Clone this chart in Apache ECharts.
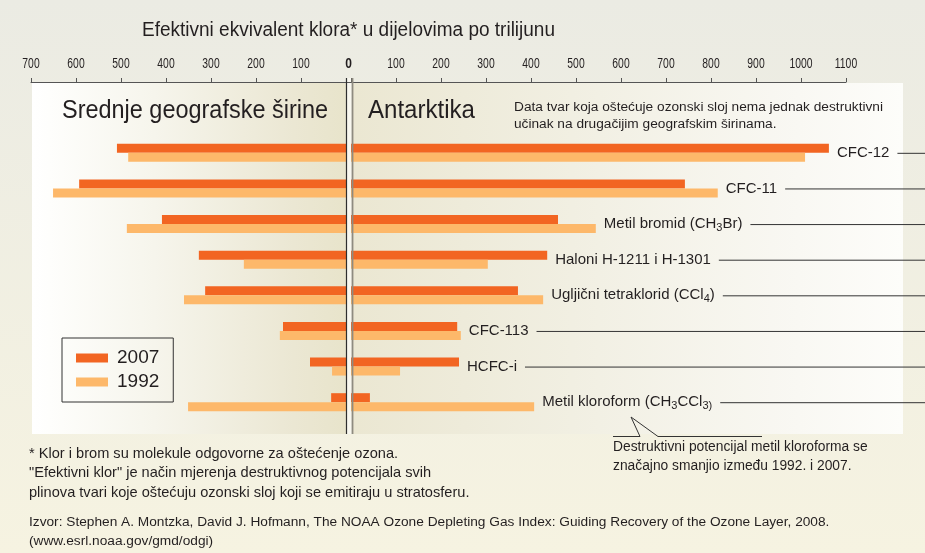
<!DOCTYPE html>
<html>
<head>
<meta charset="utf-8">
<script src="https://cdn.jsdelivr.net/npm/echarts@6/dist/echarts.min.js"></script>
<style>
  html, body { margin: 0; padding: 0; }
  #main { width: 925px; height: 553px; }
</style>
</head>
<body>
<div id="main"></div>
<script>
// kategorije (odozgo prema dolje)
var categories = ['CFC-12', 'CFC-11', 'Metil bromid', 'Haloni H-1211 i H-1301',
  'Ugljični tetraklorid', 'CFC-113', 'HCFC-i', 'Metil kloroform'];
// srednje geografske širine (lijevo)
var midLat2007 = [509, 593, 409, 327, 313, 140, 80, 33];
var midLat1992 = [484, 651, 487, 227, 360, 147, 31, 351];
// Antarktika (desno)
var ant2007 = [1062, 742, 460, 436, 371, 236, 240, 42];
var ant1992 = [1009, 815, 544, 304, 427, 244, 109, 407];
// oznake na desnoj strani
var rowLabels = ['{n|CFC-12}', '{n|CFC-11}', '{n|Metil bromid (CH}{s|3}{n|Br)}',
  '{n|Haloni H-1211 i H-1301}', '{n|Ugljični tetraklorid (CCl}{s|4}{n|)}',
  '{n|CFC-113}', '{n|HCFC-i}', '{n|Metil kloroform (CH}{s|3}{n|CCl}{s|3)}'];
var leftTicks = [700, 600, 500, 400, 300, 200, 100, 0];
var rightTicks = [100, 200, 300, 400, 500, 600, 700, 800, 900, 1000, 1100];

var C2007 = '#f26522';
var C1992 = '#fdb86a';
var TXT = '#231f20';
var REG = '"Liberation Sans", Arial, sans-serif';

var chart = echarts.init(document.getElementById('main'));

var xAxisBase = {
  type: 'value',
  position: 'top',
  offset: 53,
  interval: 100,
  min: 0,
  splitLine: { show: false },
  axisLine: { show: true, lineStyle: { color: '#555', width: 1 } },
  axisTick: { show: true, length: 4, lineStyle: { color: '#555' } },
  axisLabel: { show: false }
};

var option = {
  animation: false,
  backgroundColor: {
    type: 'linear', x: 0, y: 0, x2: 0, y2: 1,
    colorStops: [{ offset: 0, color: '#ebebe3' }, { offset: 1, color: '#f6f3e1' }]
  },
  legend: {
    data: ['2007', '1992'],
    orient: 'vertical',
    left: 62, top: 338,
    padding: [10, 14, 10, 14],
    itemWidth: 32, itemHeight: 9, itemGap: 4,
    borderColor: '#333', borderWidth: 1,
    selectedMode: false,
    icon: 'rect',
    textStyle: { fontSize: 19, lineHeight: 20, color: TXT, fontFamily: REG, padding: [0, 0, 0, 4] }
  },
  grid: [
    { left: 31, width: 315, top: 135, height: 285 },
    { left: 351, width: 495, top: 135, height: 285 }
  ],
  xAxis: [
    Object.assign({}, xAxisBase, { gridIndex: 0, max: 700, inverse: true }),
    Object.assign({}, xAxisBase, { gridIndex: 1, max: 1100 })
  ],
  yAxis: [
    { type: 'category', gridIndex: 0, data: categories, inverse: true, show: false },
    { type: 'category', gridIndex: 1, data: categories, inverse: true, show: false }
  ],
  series: [
    { name: '2007', type: 'bar', xAxisIndex: 0, yAxisIndex: 0, data: midLat2007,
      barWidth: 9, barGap: '0%', itemStyle: { color: C2007 }, z: 3 },
    { name: '1992', type: 'bar', xAxisIndex: 0, yAxisIndex: 0, data: midLat1992,
      barWidth: 9, barGap: '0%', itemStyle: { color: C1992 }, z: 3 },
    { name: '2007', type: 'bar', xAxisIndex: 1, yAxisIndex: 1, data: ant2007,
      barWidth: 9, barGap: '0%', itemStyle: { color: C2007 }, z: 3 },
    { name: '1992', type: 'bar', xAxisIndex: 1, yAxisIndex: 1, data: ant1992,
      barWidth: 9, barGap: '0%', itemStyle: { color: C1992 }, z: 3 }
  ]
};
chart.setOption(option);

// mjerenje teksta
var ctx = document.createElement('canvas').getContext('2d');
function textWidth(str, font) {
  ctx.font = font;
  return ctx.measureText(str).width;
}
function richWidth(str) {
  var w = 0, re = /\{(\w)\|([^}]*)\}/g, m;
  while ((m = re.exec(str)) !== null) {
    w += textWidth(m[2], (m[1] === 's' ? 11 : 15) + 'px ' + REG);
  }
  return w;
}
// uski (condensed) tekst: Liberation Sans stisnut po širini
function narrowText(str, x, y, size, width, align, weight) {
  var font = (weight ? weight + ' ' : '') + size + 'px ' + REG;
  var sx = width / textWidth(str, font);
  return {
    type: 'text', x: x, y: y, scaleX: sx, z: 10,
    style: { text: str, fill: TXT, font: font, align: align || 'left', verticalAlign: 'middle' }
  };
}

var leftZero = chart.convertToPixel({ xAxisIndex: 0 }, 0);
var rightZero = chart.convertToPixel({ xAxisIndex: 1 }, 0);
var axisY = 82;

var g = [];
// svijetla ploča iza stupaca
g.push({
  type: 'rect', z: -10, silent: true,
  shape: { x: 32, y: 83, width: 871, height: 351 },
  style: {
    fill: {
      type: 'linear', x: 0, y: 0, x2: 1, y2: 0,
      colorStops: [
        { offset: 0, color: '#ffffff' }, { offset: 0.02, color: '#fefefc' },
        { offset: 0.14, color: '#f6f5ec' }, { offset: 0.3, color: '#ebe7d3' },
        { offset: 0.36, color: '#e8e4cb' }, { offset: 0.37, color: '#ebe7d2' },
        { offset: 0.62, color: '#f1efe2' }, { offset: 0.88, color: '#f9f8f3' },
        { offset: 1, color: '#fdfdfa' }
      ]
    }
  }
});
// spoj osi preko nule
g.push({ type: 'line', z: 5, shape: { x1: leftZero, y1: axisY + 0.5, x2: rightZero, y2: axisY + 0.5 },
  style: { stroke: '#555', lineWidth: 1 } });
// dvostruka crta na nuli
g.push({ type: 'rect', z: -5, shape: { x: leftZero, y: 78, width: rightZero - leftZero + 1, height: 356 },
  style: { fill: '#f8f7ef' } });
g.push({ type: 'line', z: 6, shape: { x1: leftZero + 0.5, y1: 78, x2: leftZero + 0.5, y2: 434 },
  style: { stroke: '#2e2e2e', lineWidth: 1.2 } });
g.push({ type: 'line', z: 6, shape: { x1: rightZero + 1.5, y1: 78, x2: rightZero + 1.5, y2: 434 },
  style: { stroke: '#8e8b80', lineWidth: 1.8 } });

// oznake osi (uski font)
var tickFont = '14px ' + REG;
var tickScale = 0.74;
leftTicks.forEach(function (v) {
  var px = chart.convertToPixel({ xAxisIndex: 0 }, v);
  if (v === 0) {
    g.push({ type: 'text', x: (leftZero + rightZero) / 2, y: 64, scaleX: 0.8, z: 10,
      style: { text: '0', fill: TXT, font: 'bold 15px ' + REG, align: 'center', verticalAlign: 'middle' } });
  } else {
    g.push({ type: 'text', x: px, y: 64, scaleX: tickScale, z: 10,
      style: { text: String(v), fill: TXT, font: tickFont, align: 'center', verticalAlign: 'middle' } });
  }
});
rightTicks.forEach(function (v) {
  var px = chart.convertToPixel({ xAxisIndex: 1 }, v);
  g.push({ type: 'text', x: px, y: 64, scaleX: tickScale, z: 10,
    style: { text: String(v), fill: TXT, font: tickFont, align: 'center', verticalAlign: 'middle' } });
});

// oznake tvari s crtom do ruba
for (var i = 0; i < categories.length; i++) {
  var endV = Math.max(ant2007[i], ant1992[i]);
  var lx = chart.convertToPixel({ xAxisIndex: 1 }, endV) + 8;
  var ly = chart.convertToPixel({ yAxisIndex: 1 }, categories[i]);
  g.push({
    type: 'text', z: 10, x: lx, y: ly,
    style: {
      text: rowLabels[i], fill: TXT, verticalAlign: 'middle', align: 'left',
      rich: {
        n: { fontSize: 15, fontFamily: REG, color: TXT, lineHeight: 18 },
        s: { fontSize: 11, fontFamily: REG, color: TXT, lineHeight: 12, verticalAlign: 'bottom' }
      }
    }
  });
  var ex = lx + richWidth(rowLabels[i]) + 8;
  g.push({ type: 'line', z: 10, shape: { x1: ex, y1: ly + 0.5, x2: 925, y2: ly + 0.5 },
    style: { stroke: '#333', lineWidth: 1 } });
}

// naslovi i bilješke
g.push(narrowText('Efektivni ekvivalent klora* u dijelovima po trilijunu', 348.5, 30, 20, 413, 'center'));
g.push(narrowText('Srednje geografske širine', 62, 111, 26, 266));
g.push(narrowText('Antarktika', 368, 111, 26, 107));
g.push({ type: 'text', x: 514, y: 99, style: {
  text: 'Data tvar koja oštećuje ozonski sloj nema jednak destruktivni\nučinak na drugačijim geografskim širinama.',
  fill: TXT, font: '13.7px ' + REG, lineHeight: 17, verticalAlign: 'top' } });
g.push({ type: 'text', x: 29, y: 444, style: {
  text: '* Klor i brom su molekule odgovorne za oštećenje ozona.\n"Efektivni klor" je način mjerenja destruktivnog potencijala svih\nplinova tvari koje oštećuju ozonski sloj koji se emitiraju u stratosferu.',
  fill: TXT, font: '14.6px ' + REG, lineHeight: 19.5 } });
g.push({ type: 'text', x: 29, y: 512, style: {
  text: 'Izvor: Stephen A. Montzka, David J. Hofmann, The NOAA Ozone Depleting Gas Index: Guiding Recovery of the Ozone Layer, 2008.\n(www.esrl.noaa.gov/gmd/odgi)',
  fill: TXT, font: '13.7px ' + REG, lineHeight: 19.5 } });
g.push({ type: 'text', x: 613, y: 438, style: {
  text: 'Destruktivni potencijal metil kloroforma se\nznačajno smanjio između 1992. i 2007.',
  fill: TXT, font: '13.8px ' + REG, lineHeight: 18.5 } });
// pokazivač na metil kloroform
g.push({ type: 'polyline', z: 10, shape: { points: [[613, 436.5], [640, 436.5], [631, 417], [658, 436.5], [762, 436.5]] },
  style: { stroke: '#333', lineWidth: 1, fill: null } });

chart.setOption({ graphic: { elements: g } });
</script>
</body>
</html>
